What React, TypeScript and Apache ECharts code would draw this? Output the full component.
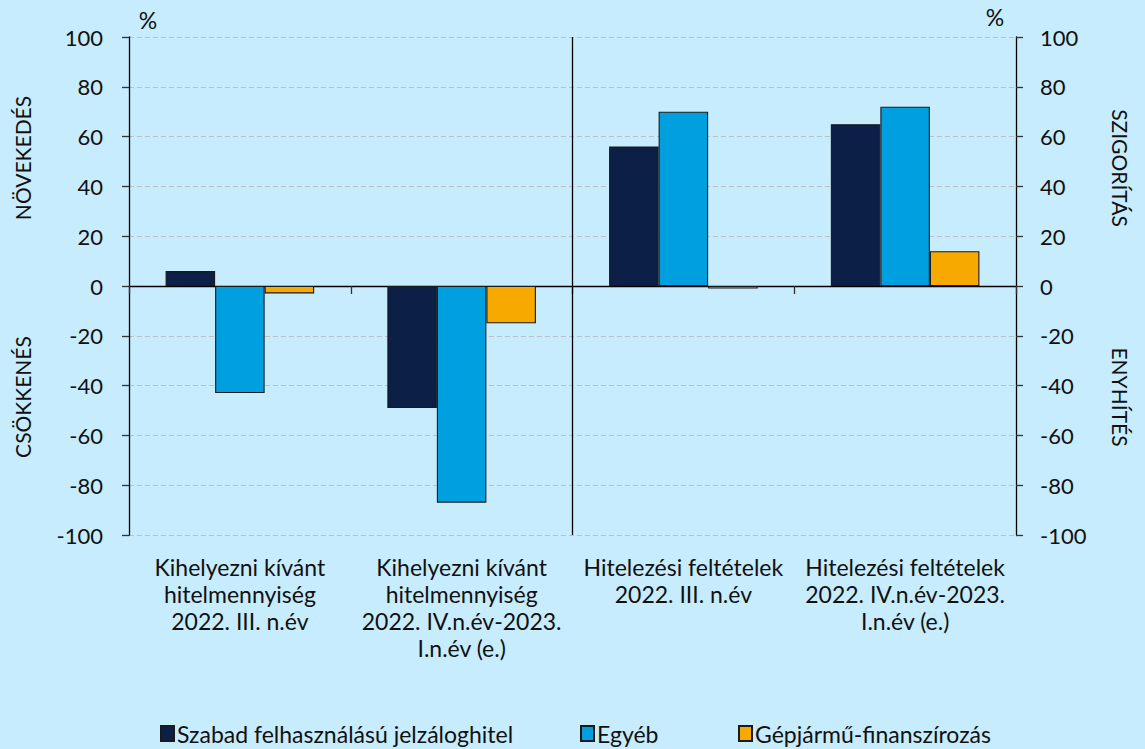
import React, { useEffect, useRef } from "react";
import * as echarts from "echarts";

const categories = [
  "Kihelyezni kívánt\nhitelmennyiség\n2022. III. n.év",
  "Kihelyezni kívánt\nhitelmennyiség\n2022. IV.n.év-2023.\nI.n.év (e.)",
  "Hitelezési feltételek\n2022. III. n.év",
  "Hitelezési feltételek\n2022. IV.n.év-2023.\nI.n.év (e.)",
];
const seriesNames = ["Szabad felhasználású jelzáloghitel", "Egyéb", "Gépjármű-finanszírozás"];
const szabad = [6, -49, 56, 65];
const egyeb = [-43, -87, 70, 72];
const gepjarmu = [-3, -15, -1, 14];
const colors = ["#0C1F47", "#009FE0", "#F7A900"];
const separator = [[2, 100], [2, -100]];

const FONT = "Lato";

export default function App() {
  const ref = useRef<HTMLDivElement>(null);
  useEffect(() => {
    if (!ref.current) return;
    const chart = echarts.init(ref.current, undefined, { renderer: "svg" });
    const values = [szabad, egyeb, gepjarmu];
    const yAxisCommon = {
      type: "value",
      min: -100,
      max: 100,
      interval: 20,
      axisLine: { show: true, lineStyle: { color: "#000", width: 1.3 } },
      axisTick: { show: true, length: 7, lineStyle: { color: "#333", width: 1.3 } },
    };
    const titleStyle = { fontSize: 21, fontFamily: FONT, fill: "#111", align: "center", verticalAlign: "middle" };
    chart.setOption({
      animation: false,
      backgroundColor: "#C7ECFD",
      textStyle: { fontFamily: FONT, color: "#111" },
      grid: { left: 129, right: 129, top: 37, bottom: 214, containLabel: false },
      xAxis: [
        {
          type: "category",
          data: categories,
          axisLine: { onZero: true, lineStyle: { color: "#000", width: 1.3 } },
          axisTick: { show: true, length: 8, alignWithLabel: false, interval: 0, lineStyle: { color: "#333", width: 1.3 } },
          axisLabel: { show: false },
        },
        {
          type: "category",
          data: categories,
          position: "bottom",
          axisLine: { show: false, onZero: false },
          axisTick: { show: false },
          axisLabel: {
            interval: 0,
            margin: 18,
            fontSize: 23,
            lineHeight: 27,
            fontFamily: FONT,
            color: "#111",
            verticalAlign: "top",
          },
        },
        {
          type: "value",
          min: 0,
          max: 4,
          show: false,
        },
      ],
      yAxis: [
        {
          ...yAxisCommon,
          position: "left",
          axisLabel: { fontSize: 22, margin: 26, color: "#111", fontFamily: FONT },
          splitLine: { show: true, lineStyle: { color: "#BEBEBE", type: [5, 3], width: 1 } },
        },
        {
          ...yAxisCommon,
          position: "right",
          axisLabel: { fontSize: 22, margin: 24, color: "#111", fontFamily: FONT },
          splitLine: { show: false },
        },
      ],
      legend: seriesNames.map((n, i) => ({
        data: [n],
        left: [160, 580, 738][i],
        top: 722,
        itemWidth: 13,
        itemHeight: 15,
        itemGap: 4,
        icon: "rect",
        textStyle: { fontSize: 23, fontFamily: FONT, color: "#111", padding: [0, 0, 0, -2] },
        padding: 0,
      })),
      series: [
        ...seriesNames.map((n, i) => ({
          name: n,
          type: "bar",
          xAxisIndex: 0,
          yAxisIndex: 0,
          data: values[i],
          barGap: "0%",
          barCategoryGap: "33%",
          itemStyle: { color: colors[i], borderColor: "#1a1a1a", borderWidth: 1.1 },
        })),
        {
          name: "sep",
          type: "line",
          xAxisIndex: 2,
          yAxisIndex: 0,
          data: separator,
          symbol: "none",
          lineStyle: { color: "#000", width: 1.3 },
          silent: true,
        },
      ],
      graphic: [
        { type: "text", x: 148, y: 20, style: { ...titleStyle, text: "%", fontSize: 23 } },
        { type: "text", x: 995, y: 17, style: { ...titleStyle, text: "%", fontSize: 23 } },
        { type: "text", x: 22, y: 158, rotation: Math.PI / 2, style: { ...titleStyle, text: "NÖVEKEDÉS" } },
        { type: "text", x: 22, y: 397, rotation: Math.PI / 2, style: { ...titleStyle, text: "CSÖKKENÉS" } },
        { type: "text", x: 1120, y: 168, rotation: -Math.PI / 2, style: { ...titleStyle, text: "SZIGORÍTÁS" } },
        { type: "text", x: 1120, y: 397, rotation: -Math.PI / 2, style: { ...titleStyle, text: "ENYHÍTÉS" } },
      ],
    });
    return () => chart.dispose();
  }, []);
  return <div ref={ref} style={{ position: "absolute", left: 0, top: 0, width: 1145, height: 749 }} />;
}
